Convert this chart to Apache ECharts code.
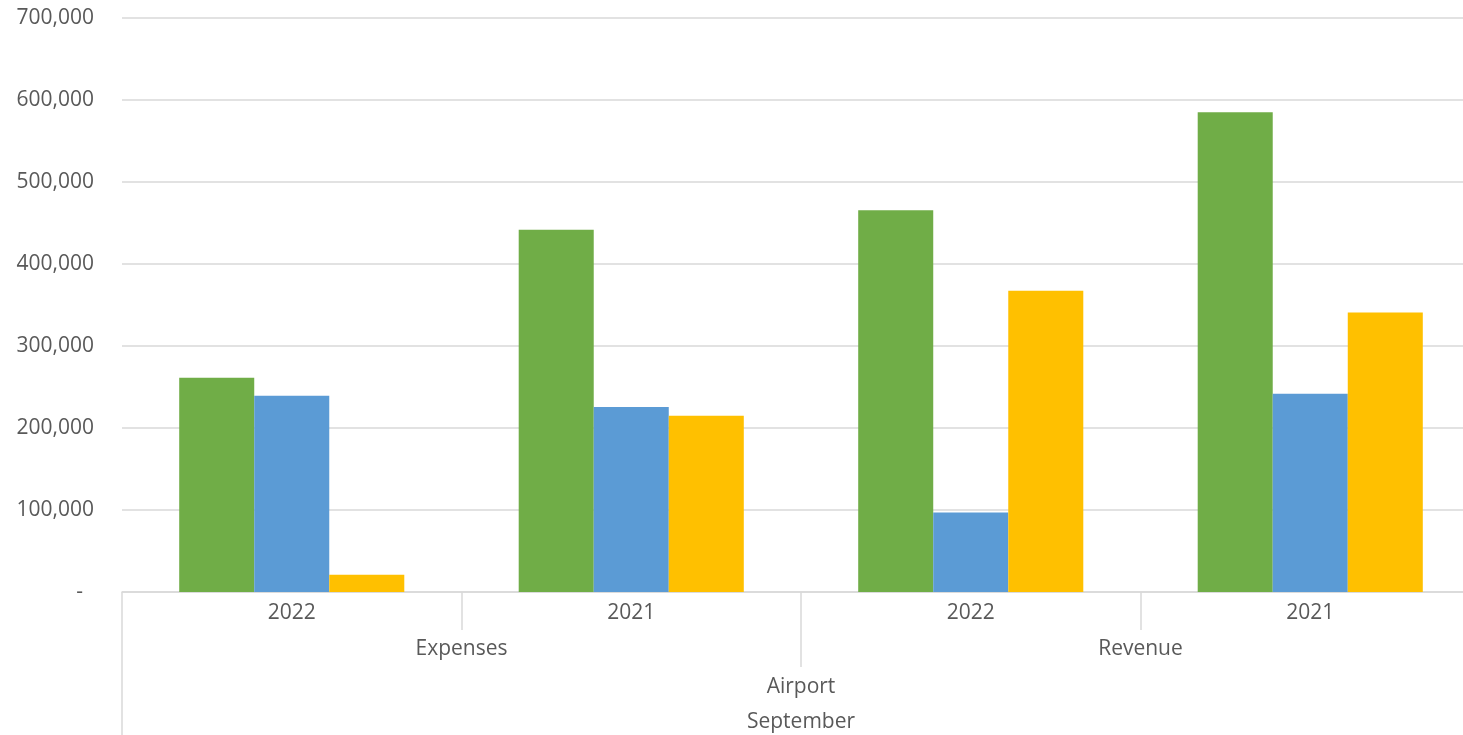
<!DOCTYPE html>
<html>
<head>
<meta charset="utf-8">
<title>Airport – September</title>
<script src="https://cdn.jsdelivr.net/npm/echarts@6/dist/echarts.min.js"></script>
<style>
  html, body { margin: 0; padding: 0; background: #fff; overflow: hidden; }
  /* the plot runs slightly past the right edge of the window */
  #chart { width: 1480px; height: 735px; }
</style>
</head>
<body>
<div id="chart"></div>
<script>
// Category levels, innermost first
const years = ['2022', '2021', '2022', '2021'];
const sections = ['Expenses', 'Revenue'];
const places = ['Airport'];
const months = ['September'];

// Values per year/section group
const greenValues = [261300, 441900, 465400, 585000];
const blueValues = [239400, 225500, 97000, 241800];
const yellowValues = [21000, 215000, 367500, 341000];

// Y axis range
const yMin = 0;
const yMax = 700000;
const yStep = 100000;

const textColor = '#595959';
const lineColor = '#d9d9d9';
const fontFamily = "'Open Sans', 'Noto Sans', sans-serif";
const fontSize = 21;

function levelAxis(data, tickLen, labelMargin, showTick) {
  return {
    type: 'category',
    data: data,
    gridIndex: 0,
    position: 'bottom',
    offset: 0,
    boundaryGap: true,
    axisLine: { show: false, onZero: false },
    axisTick: {
      show: showTick,
      interval: 0,
      length: tickLen,
      lineStyle: { color: lineColor, width: 1.5 }
    },
    axisLabel: {
      interval: 0,
      margin: labelMargin,
      color: textColor,
      fontFamily: fontFamily,
      fontSize: fontSize
    },
    splitLine: { show: false }
  };
}

const chart = echarts.init(document.getElementById('chart'), null, { renderer: 'canvas' });

const yearAxis = levelAxis(years, 38, 11, true);
yearAxis.axisLine = { show: true, onZero: false, lineStyle: { color: lineColor, width: 1.5 } };

const barSeries = (name, color, values) => ({
  name: name,
  type: 'bar',
  xAxisIndex: 0,
  yAxisIndex: 0,
  data: values,
  barGap: '0%',
  barCategoryGap: '33.7%',
  itemStyle: { color: color },
  emphasis: { disabled: true }
});

chart.setOption({
  animation: false,
  backgroundColor: '#ffffff',
  grid: { left: 122, right: 0, top: 18, bottom: 143, containLabel: false },
  xAxis: [
    yearAxis,
    levelAxis(sections, 75, 47, true),
    levelAxis(places, 143, 85, true),
    levelAxis(months, 0, 120, false)
  ],
  yAxis: {
    type: 'value',
    min: yMin,
    max: yMax,
    interval: yStep,
    axisLine: { show: false },
    axisTick: { show: false },
    splitLine: { lineStyle: { color: lineColor, width: 1.5 } },
    axisLabel: {
      margin: 28,
      color: textColor,
      fontFamily: fontFamily,
      fontSize: fontSize,
      formatter: v => v === 0 ? '-  ' : v.toLocaleString('en-US')
    }
  },
  series: [
    barSeries('Series 1', '#70AD47', greenValues),
    barSeries('Series 2', '#5B9BD5', blueValues),
    barSeries('Series 3', '#FFC000', yellowValues)
  ]
});
</script>
</body>
</html>
